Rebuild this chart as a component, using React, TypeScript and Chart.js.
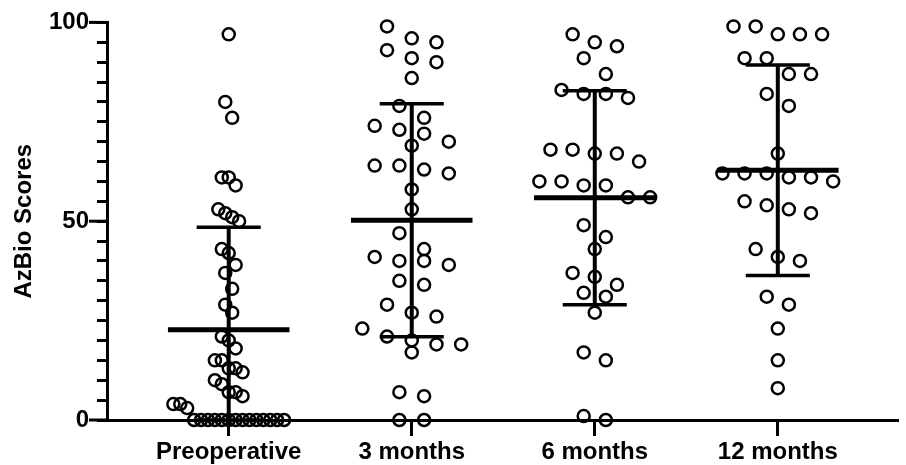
import React, { useEffect, useRef } from 'react';
import { Chart, registerables } from 'chart.js';

Chart.register(...registerables);

const CATEGORIES = ['Preoperative', '3 months', '6 months', '12 months'];

const PREOPERATIVE = [
  97, 80, 76, 61, 61, 59, 53, 52, 51, 50, 43, 42, 39, 37, 33, 29, 27, 21, 20, 18,
  15, 15, 13, 13, 12, 10, 9, 7, 7, 6, 4, 4, 3,
  0, 0, 0, 0, 0, 0, 0, 0, 0, 0, 0, 0, 0, 0,
];
const MONTHS_3 = [
  99, 96, 95, 93, 91, 90, 86, 79, 76, 74, 73, 72, 70, 69, 64, 64, 63, 62, 58, 53,
  47, 43, 41, 40, 40, 39, 35, 34, 29, 27, 26, 23, 21, 20, 19, 19, 17, 7, 6, 0, 0,
];
const MONTHS_6 = [
  97, 95, 94, 91, 87, 83, 82, 82, 81, 68, 68, 67, 67, 65, 60, 60, 59, 59, 56, 56,
  49, 46, 43, 37, 36, 34, 32, 31, 27, 17, 15, 1, 0,
];
const MONTHS_12 = [
  99, 99, 97, 97, 97, 91, 91, 87, 87, 82, 79, 67, 62, 62, 62, 61, 61, 60, 55, 54,
  53, 52, 43, 41, 40, 31, 29, 23, 15, 8,
];

const GROUPS = [PREOPERATIVE, MONTHS_3, MONTHS_6, MONTHS_12];
const Y_LABELED_TICKS = [0, 50, 100];
const Y_MIN = 0;
const Y_MAX = 100;
const Y_STEP = 5;

const FONT_FAMILY = "'Liberation Sans', Arial, Helvetica, sans-serif";

// layout constants (category units on the x scale)
const BIN_HEIGHT = 4;
const MAX_STEP = 0.135;
const MAX_SPREAD = 0.605;
const MEAN_HALF = 0.332;
const CAP_HALF = 0.175;

function mean(a: number[]) {
  return a.reduce((s, v) => s + v, 0) / a.length;
}
function sd(a: number[]) {
  const m = mean(a);
  return Math.sqrt(a.reduce((s, v) => s + (v - m) * (v - m), 0) / (a.length - 1));
}

function swarm(values: number[], center: number) {
  const sorted = [...values].sort((a, b) => b - a);
  const bins: number[][] = [];
  for (const v of sorted) {
    const last = bins[bins.length - 1];
    if (last && last[0] - v <= BIN_HEIGHT + 1e-9) last.push(v);
    else bins.push([v]);
  }
  const maxCount = Math.max(...bins.map((b) => b.length));
  const step = maxCount > 1 ? Math.min(MAX_STEP, MAX_SPREAD / (maxCount - 1)) : MAX_STEP;
  const pts: { x: number; y: number }[] = [];
  for (const b of bins) {
    b.forEach((v, i) => pts.push({ x: center + (i - (b.length - 1) / 2) * step, y: v }));
  }
  return pts;
}

const majorTickPlugin = {
  id: 'majorTicks',
  afterDraw(chart: any) {
    const y = chart.scales.y;
    const ctx = chart.ctx;
    const left = chart.chartArea.left;
    ctx.save();
    ctx.strokeStyle = '#000';
    ctx.lineWidth = 3;
    for (const v of Y_LABELED_TICKS) {
      const py = y.getPixelForValue(v);
      ctx.beginPath();
      ctx.moveTo(left - 18, py);
      ctx.lineTo(left, py);
      ctx.stroke();
    }
    ctx.restore();
  },
};

export default function App() {
  const ref = useRef<HTMLCanvasElement>(null);

  useEffect(() => {
    document.body.style.margin = '0';
    if (!ref.current) return;

    const datasets: any[] = [];
    GROUPS.forEach((g, i) => {
      const c = i + 1;
      const m = mean(g);
      const s = sd(g);
      const hi = Math.min(Y_MAX, m + s);
      const lo = Math.max(Y_MIN, m - s);
      const line = (data: { x: number; y: number }[], w: number) => ({
        data,
        showLine: true,
        borderColor: '#000',
        borderWidth: w,
        pointRadius: 0,
        borderCapStyle: 'butt',
        order: 0,
        clip: false,
      });
      datasets.push(line([{ x: c - MEAN_HALF, y: m }, { x: c + MEAN_HALF, y: m }], 5));
      datasets.push(line([{ x: c - CAP_HALF, y: hi }, { x: c + CAP_HALF, y: hi }], 3.5));
      datasets.push(line([{ x: c - CAP_HALF, y: lo }, { x: c + CAP_HALF, y: lo }], 3.5));
      datasets.push(line([{ x: c, y: lo }, { x: c, y: hi }], 4));
      datasets.push({
        data: swarm(g, c),
        showLine: false,
        pointStyle: 'circle',
        pointRadius: 6,
        pointBorderWidth: 2.5,
        pointBorderColor: '#000',
        pointBackgroundColor: 'rgba(0,0,0,0)',
        order: 1,
        clip: false,
      });
    });

    const chart = new Chart(ref.current, {
      type: 'scatter',
      data: { datasets },
      plugins: [majorTickPlugin],
      options: {
        animation: false,
        responsive: false,
        layout: { padding: { top: 20, left: 0, right: 0, bottom: 0 } },
        plugins: { legend: { display: false }, tooltip: { enabled: false } },
        scales: {
          x: {
            type: 'linear',
            min: 0.335,
            max: 4.654,
            afterBuildTicks: (scale: any) => {
              scale.ticks = CATEGORIES.map((_, i) => ({ value: i + 1 }));
            },
            afterFit: (scale: any) => {
              scale.height = 45;
            },
            ticks: {
              autoSkip: false,
              maxRotation: 0,
              padding: 2,
              color: '#000',
              font: { family: FONT_FAMILY, size: 24, weight: 'bold' },
              callback: (v: any) => CATEGORIES[Math.round(Number(v)) - 1] ?? '',
            },
            grid: {
              drawOnChartArea: false,
              drawTicks: true,
              tickLength: 16,
              color: '#000',
              lineWidth: 3,
            },
            border: { display: true, color: '#000', width: 3 },
          },
          y: {
            type: 'linear',
            min: Y_MIN,
            max: Y_MAX,
            afterFit: (scale: any) => {
              scale.width = 107;
            },
            ticks: {
              stepSize: Y_STEP,
              autoSkip: false,
              padding: 8,
              color: '#000',
              font: { family: FONT_FAMILY, size: 24, weight: 'bold' },
              callback: (v: any) => (Y_LABELED_TICKS.includes(Number(v)) ? String(v) : ''),
            },
            grid: {
              drawOnChartArea: false,
              drawTicks: true,
              tickLength: 10,
              color: '#000',
              lineWidth: 3,
            },
            border: { display: true, color: '#000', width: 3 },
            title: {
              display: true,
              text: 'AzBio Scores',
              color: '#000',
              padding: { top: 10, bottom: 0 },
              font: { family: FONT_FAMILY, size: 24, weight: 'bold' },
            },
          },
        },
      } as any,
    });

    return () => chart.destroy();
  }, []);

  return (
    <div style={{ width: 906, height: 465, position: 'relative' }}>
      <canvas ref={ref} width={906} height={465} style={{ width: 906, height: 465, display: 'block' }} />
    </div>
  );
}
